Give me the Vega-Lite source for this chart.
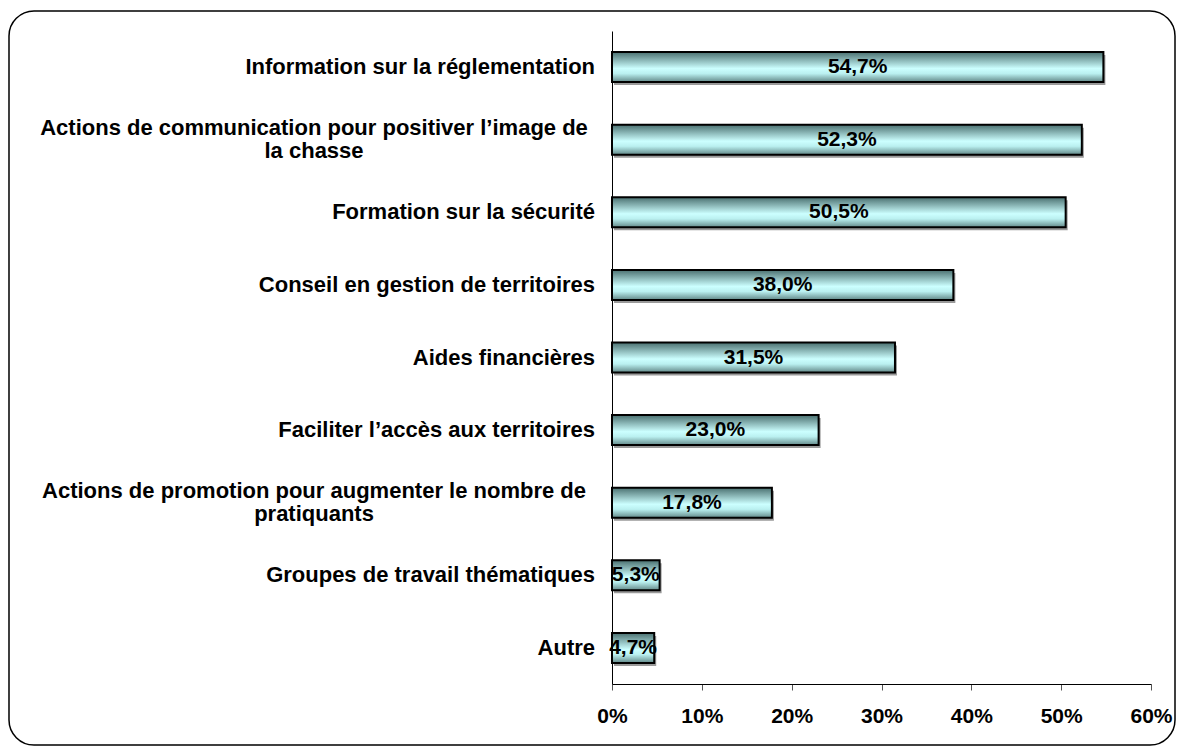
{
  "$schema": "https://vega.github.io/schema/vega-lite/v6.json",
  "width": 1166,
  "height": 734,
  "autosize": {"type": "none"},
  "padding": {"left": 9, "top": 11, "right": 7, "bottom": 8},
  "background": "white",
  "config": {
    "view": {"stroke": "black", "strokeWidth": 1.5, "cornerRadius": 25},
    "locale": {"number": {"decimal": ",", "thousands": " ", "grouping": [3], "currency": ["", " €"]}},
    "font": "Liberation Sans"
  },
  "data": {
    "values": [
      {"cat": "Information sur la réglementation", "label": "Information sur la réglementation", "value": 0.547},
      {"cat": "Actions de communication pour positiver l’image de la chasse", "label": ["Actions de communication pour positiver l’image de", "la chasse"], "value": 0.523},
      {"cat": "Formation sur la sécurité", "label": "Formation sur la sécurité", "value": 0.505},
      {"cat": "Conseil en gestion de territoires", "label": "Conseil en gestion de territoires", "value": 0.38},
      {"cat": "Aides financières", "label": "Aides financières", "value": 0.315},
      {"cat": "Faciliter l’accès aux territoires", "label": "Faciliter l’accès aux territoires", "value": 0.23},
      {"cat": "Actions de promotion pour augmenter le nombre de pratiquants", "label": ["Actions de promotion pour augmenter le nombre de", "pratiquants"], "value": 0.178},
      {"cat": "Groupes de travail thématiques", "label": "Groupes de travail thématiques", "value": 0.053},
      {"cat": "Autre", "label": "Autre", "value": 0.047}
    ]
  },
  "encoding": {
    "y": {
      "field": "cat",
      "type": "nominal",
      "sort": null,
      "scale": {"range": [20, 673], "paddingInner": 0.587, "paddingOuter": 0.29},
      "axis": {"title": null, "labels": false, "ticks": false, "offset": -603, "domainColor": "black", "domainWidth": 1}
    }
  },
  "layer": [
    {
      "mark": {"type": "bar", "color": "#9a9a9a", "xOffset": 2, "x2Offset": 2, "yOffset": 3, "y2Offset": 3},
      "encoding": {
        "x": {
          "field": "value",
          "type": "quantitative",
          "scale": {"domain": [0, 0.6], "range": [603, 1142], "nice": false, "zero": true},
          "axis": {
            "title": null,
            "format": ".0%",
            "values": [0, 0.1, 0.2, 0.3, 0.4, 0.5, 0.6],
            "offset": -61,
            "grid": false,
            "labelFlush": false,
            "domainColor": "black",
            "domainWidth": 1,
            "tickColor": "#555555",
            "tickSize": 6,
            "labelFont": "Liberation Sans",
            "labelFontWeight": "bold",
            "labelFontSize": 21,
            "labelColor": "black",
            "labelPadding": 15
          }
        }
      }
    },
    {
      "mark": {
        "type": "bar",
        "stroke": "black",
        "strokeWidth": 2,
        "color": {
          "gradient": "linear",
          "x1": 0, "y1": 0, "x2": 0, "y2": 1,
          "stops": [
            {"offset": 0, "color": "#4a7070"},
            {"offset": 0.2, "color": "#7aa4a4"},
            {"offset": 0.55, "color": "#ccffff"},
            {"offset": 0.72, "color": "#baf0f0"},
            {"offset": 1, "color": "#628888"}
          ]
        }
      },
      "encoding": {
        "x": {"field": "value", "type": "quantitative"}
      }
    },
    {
      "transform": [{"calculate": "datum.value / 2", "as": "mid"}],
      "mark": {"type": "text", "font": "Liberation Sans", "fontWeight": "bold", "fontSize": 21, "color": "black", "align": "center", "baseline": "middle"},
      "encoding": {
        "x": {"field": "mid", "type": "quantitative"},
        "text": {"field": "value", "type": "quantitative", "format": ".1%"}
      }
    },
    {
      "transform": [{"filter": "!isArray(datum.label)"}],
      "mark": {"type": "text", "font": "Liberation Sans", "fontWeight": "bold", "fontSize": 22, "color": "black", "align": "right", "baseline": "middle"},
      "encoding": {
        "x": {"datum": -0.0189},
        "text": {"field": "label"}
      }
    },
    {
      "transform": [{"filter": "isArray(datum.label)"}],
      "mark": {"type": "text", "font": "Liberation Sans", "fontWeight": "bold", "fontSize": 22, "color": "black", "align": "center", "baseline": "middle", "lineHeight": 23, "dy": -11.5},
      "encoding": {
        "x": {"datum": -0.3317},
        "text": {"field": "label"}
      }
    }
  ]
}
